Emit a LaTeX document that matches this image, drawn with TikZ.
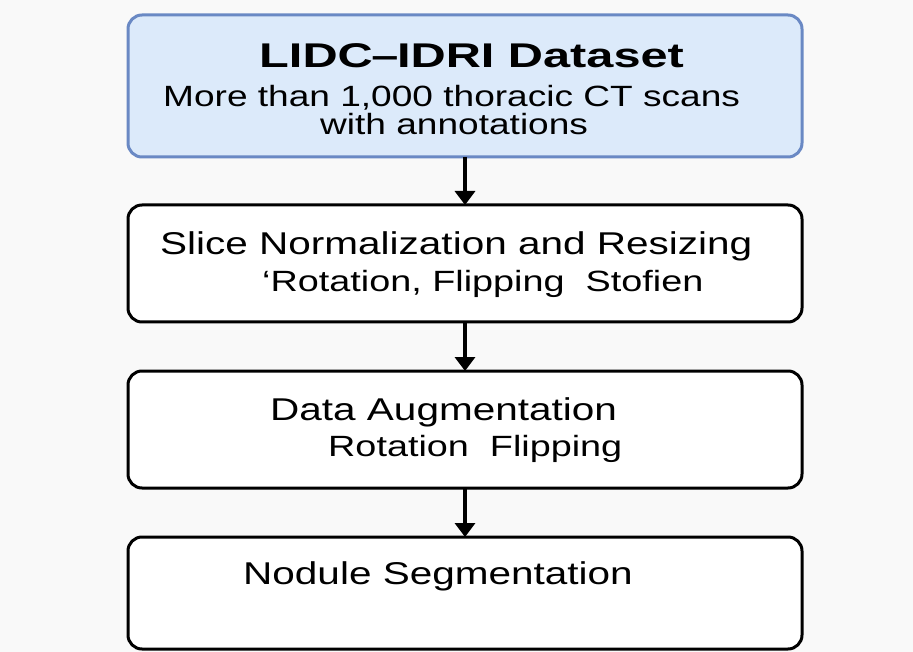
\documentclass[tikz,border=0pt]{standalone}
\usepackage{fontspec}
\usepackage{graphicx}
\setmainfont{Liberation Sans}
\usetikzlibrary{arrows.meta}
\definecolor{bgc}{HTML}{F9F9F9}
\definecolor{topfill}{HTML}{DCEAFA}
\definecolor{topdraw}{HTML}{6A89C4}
\newcommand{\wideBig}[1]{\scalebox{1.286}[1]{\fontsize{31.5}{36}\selectfont #1}}
\newcommand{\wideSmall}[1]{\scalebox{1.29}[1]{\fontsize{29.3}{34}\selectfont #1}}
\newcommand{\wideSub}[1]{\scalebox{1.265}[1]{\fontsize{29.3}{34}\selectfont #1}}
\newcommand{\wideTitle}[1]{\scalebox{1.42}[1]{\fontsize{34.3}{40}\selectfont\bfseries #1}}
\tikzset{
  box/.style={rounded corners=14pt, line width=3pt, draw=black, fill=white},
  topbox/.style={box, draw=topdraw, fill=topfill},
  conn/.style={line width=3.3pt, -{Triangle[length=14pt,width=20pt]}},
  txt/.style={anchor=base west, inner sep=0pt},
}
\begin{document}
\begin{tikzpicture}[x=1pt,y=-1pt]
\fill[bgc] (0,0) rectangle (913,652);
\useasboundingbox (0,0) rectangle (913,652);
% boxes
\draw[topbox] (128,15) rectangle (802,157);
\draw[box] (128,205) rectangle (802,322);
\draw[box] (128,371) rectangle (802,488);
\draw[box] (128,537) rectangle (802,649);
\coordinate (b1s) at (465,157);
\coordinate (b2n) at (465,205);
\coordinate (b2s) at (465,322);
\coordinate (b3n) at (465,371);
\coordinate (b3s) at (465,488);
\coordinate (b4n) at (465,537);
\draw[conn] (b1s) -- (b2n);
\draw[conn] (b2s) -- (b3n);
\draw[conn] (b3s) -- (b4n);
% texts
\node[txt] (t1) at (259,67.5) {\wideTitle{LIDC\kern-1pt–\kern-1ptIDRI Dataset}};
\node[txt] (t2) at (163,106.5) {\wideSub{More than 1,000 thoracic CT scans}};
\node[txt] (t3) at (320,135) {\wideSub{with annotations}};
\node[txt] (s1) at (160,255) {\wideBig{Slice Normalization and Resizing}};
\node[txt] (s2) at (262,292) {\wideSmall{‘Rotation, Flipping\ \ Stofien}};
\node[txt] (d1) at (270,420) {\wideBig{Data Augmentation}};
\node[txt] (d2) at (328,456) {\wideSmall{Rotation\ \ Flipping}};
\node[txt] (n1) at (243,584.5) {\wideBig{Nodule Segmentation}};
\end{tikzpicture}
\end{document}
